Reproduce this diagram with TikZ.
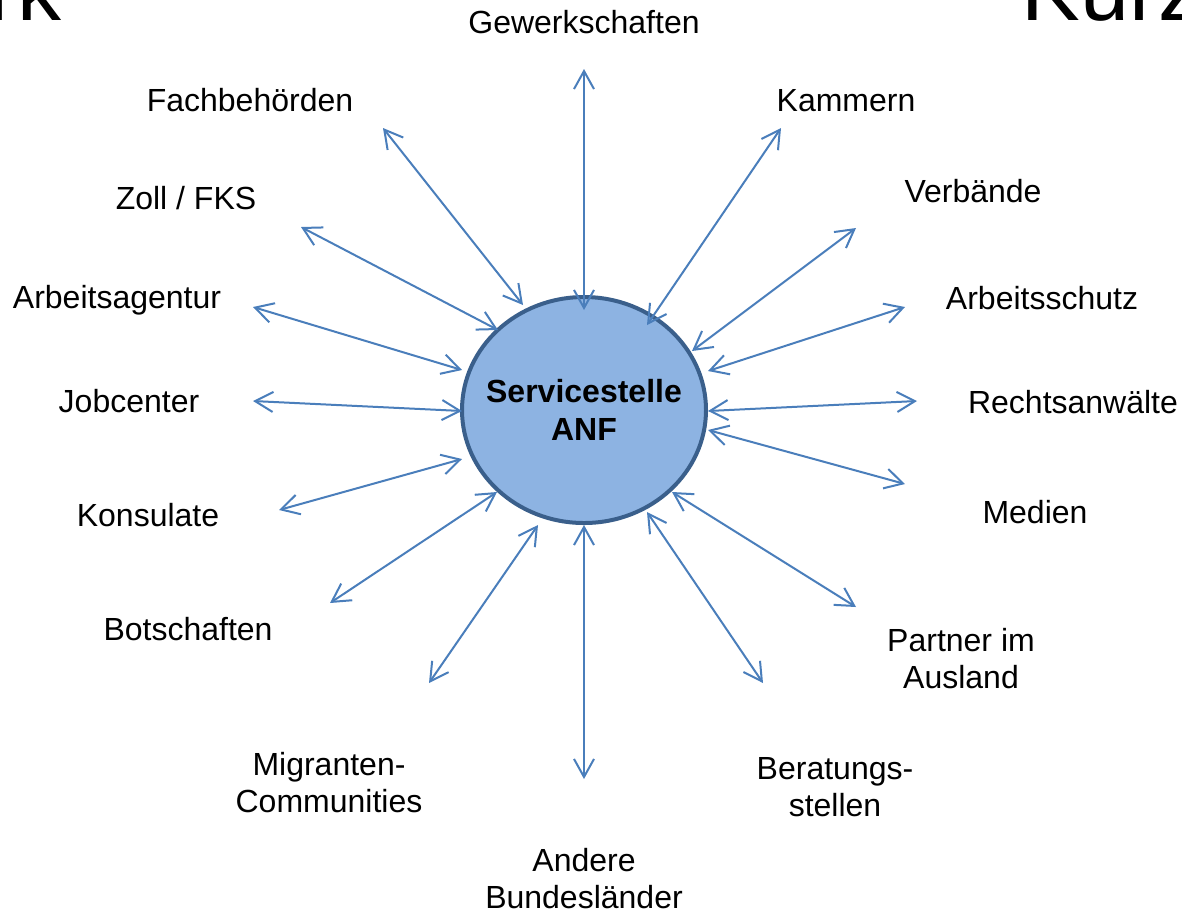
\documentclass[tikz,border=0pt]{standalone}
\usepackage{fontspec}
\setmainfont{Liberation Sans}
\usetikzlibrary{arrows.meta, shapes.geometric}
\definecolor{linkblue}{HTML}{4A7EBB}
\definecolor{anffill}{HTML}{8DB3E2}
\definecolor{anfline}{HTML}{3A5F8B}

\tikzset{
  partnertext/.style={font=\fontsize{16}{18.5}\selectfont, inner sep=0pt,
                      align=center, anchor=base},
  titletext/.style={font=\fontsize{44}{50}\selectfont, inner sep=0pt},
  anf/.style={ellipse, draw=anfline, line width=2pt, fill=anffill,
              minimum width=122pt, minimum height=113pt,
              inner xsep=-25pt, inner ysep=0pt,
              align=center, font=\fontsize{16}{19}\selectfont\bfseries},
  link/.style={linkblue, line width=1pt,
               {Straight Barb[length=9pt,width=10pt]}-{Straight Barb[length=9pt,width=10pt]}}
}

\begin{document}
\begin{tikzpicture}[x=0.5pt, y=-0.5pt]
  \useasboundingbox (0,0) rectangle (1182,912);
  \clip (0,0) rectangle (1182,912);

  %% Title remnants at the upper edge
  \node[titletext, anchor=base east] (titleleft) at (62,20) {rk};
  \node[titletext, anchor=base west] (titleright) at (1021,20) {Kurz};

  %% Central node
  \node[anf] (anf) at (584,410) {Servicestelle\\ANF};

  %% Partner labels (base = baseline of the last line)
  \node[partnertext] (gewerkschaften) at (584,33)  {Gewerkschaften};
  \node[partnertext] (fachbehoerden)  at (250,111) {Fachbehörden};
  \node[partnertext] (kammern)        at (846,111) {Kammern};
  \node[partnertext] (zoll)           at (186,209) {Zoll / FKS};
  \node[partnertext] (verbaende)      at (973,202) {Verbände};
  \node[partnertext] (arbeitsagentur) at (117,308) {Arbeitsagentur};
  \node[partnertext] (arbeitsschutz)  at (1042,309) {Arbeitsschutz};
  \node[partnertext] (jobcenter)      at (129,412) {Jobcenter};
  \node[partnertext] (rechtsanwaelte) at (1073,413) {Rechtsanwälte};
  \node[partnertext] (konsulate)      at (148,526) {Konsulate};
  \node[partnertext] (medien)         at (1035,523) {Medien};
  \node[partnertext] (botschaften)    at (188,640) {Botschaften};
  \node[partnertext] (partner)        at (961,688) {Partner im\\Ausland};
  \node[partnertext] (migranten)      at (329,812) {Migranten-\\Communities};
  \node[partnertext] (beratung)       at (835,816) {Beratungs-\\stellen};
  \node[partnertext] (andere)         at (584,908) {Andere\\Bundesländer};

  %% Double arrows: name / outer end / inner end
  \foreach \n/\ox/\oy/\ix/\iy in {
      gew/584/69/584/310,    kam/781/128/647/325,  ver/856/228/692/351,
      asch/905/307/708/371,  recht/917/401/708/411, med/905/484/708/430,
      part/856/607/672/492,  ber/763/683/647/512,  and/584/779/584/525,
      mig/429/683/538/525,   bot/330/603/497/492,  kon/279/510/462/459,
      job/253/401/462/411,   aag/253/307/462/370,  zoll/301/227/498/330,
      fach/383/128/523/305} {
    \coordinate (o-\n) at (\ox,\oy);
    \coordinate (i-\n) at (\ix,\iy);
    \draw[link] (o-\n) -- (i-\n);
  }
\end{tikzpicture}
\end{document}
